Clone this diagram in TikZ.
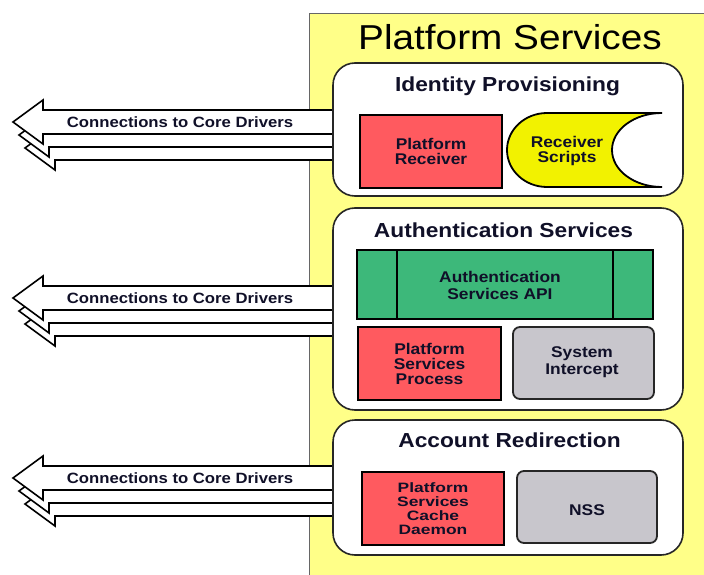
\documentclass[tikz,border=0pt]{standalone}
\usepackage{fontspec}
\setmainfont{Liberation Sans}
\newfontfamily\widef[FakeStretch=1.12,BoldFont={Liberation Sans Bold}]{Liberation Sans}
\newfontfamily\widerf[FakeStretch=1.28,BoldFont={Liberation Sans Bold}]{Liberation Sans}
\definecolor{bgyellow}{HTML}{FFFF88}
\definecolor{boxred}{HTML}{FF5A5F}
\definecolor{boxgreen}{HTML}{3DB87A}
\definecolor{boxgray}{HTML}{C8C6CC}
\definecolor{scriptyellow}{HTML}{F2F200}
\definecolor{txt}{HTML}{101028}
\newcommand\onearrow[2]{%
  \draw[blockarrow] (336,{#2-12}) -- ({#1+30},{#2-12}) -- ({#1+30},{#2-22}) -- (#1,#2)
    -- ({#1+30},{#2+22}) -- ({#1+30},{#2+12}) -- (336,{#2+12});}
\newcommand\arrowgroup[2]{%
  \onearrow{25}{#1+26}
  \onearrow{19}{#1+13}
  \onearrow{13}{#1}
  \node[conn] (#2) at (180,#1) {Connections to Core Drivers};}
\begin{document}
\begin{tikzpicture}[x=1pt,y=-1pt,
  panel/.style={draw=black!85, line width=1.6pt, fill=white, rounded corners=22pt, inner sep=0pt},
  redbox/.style={draw=black, line width=1.8pt, fill=boxred, inner sep=0pt},
  greenbox/.style={draw=black, line width=1.8pt, fill=boxgreen, inner sep=0pt},
  graybox/.style={draw=black!85, line width=1.8pt, fill=boxgray, rounded corners=7pt, inner sep=0pt},
  lbl/.style={text=txt, font=\widef\bfseries\fontsize{15.5}{15}\selectfont, align=center, inner sep=0pt},
  head/.style={text=txt, font=\widef\bfseries\fontsize{20.3}{24}\selectfont, inner sep=0pt, anchor=base},
  conn/.style={text=txt, font=\widef\bfseries\fontsize{14.9}{18}\selectfont, inner sep=0pt},
  blockarrow/.style={draw=black, line width=1.6pt, fill=white, line join=miter},
  scriptst/.style={draw=black, line width=1.8pt, fill=scriptyellow},
]
\useasboundingbox (0,0) rectangle (704,575);
% yellow platform area
\fill[bgyellow] (309,14) rectangle (704,575);
\draw[black!60, line width=1pt] (309,575) -- (309,14) -- (704,14);
\node[anchor=base, inner sep=0pt, font=\widef\fontsize{34.6}{40}\selectfont] (title) at (510,50) {Platform Services};

% arrows
\arrowgroup{122}{connA}
\arrowgroup{298}{connB}
\arrowgroup{478}{connC}

% panels
\node[panel, minimum width=350pt, minimum height=133pt] (idp) at (508,129.5) {};
\node[panel, minimum width=350pt, minimum height=202pt] (auth) at (508,309) {};
\node[panel, minimum width=350pt, minimum height=135pt] (acct) at (508,487.5) {};
\node[head] (idpt) at (507.5,92) {Identity Provisioning};
\node[head] (autht) at (503.5,237) {Authentication Services};
\node[head] (acctt) at (509.5,447) {Account Redirection};

% identity provisioning
\node[redbox, minimum width=142pt, minimum height=73pt] (pr) at (431,151.5) {};
\node[lbl] (prt) at (pr.center) {Platform\\Receiver};
\draw[scriptst] (547,113) -- (662,113) arc[start angle=270, end angle=90, x radius=50, y radius=37]
  -- (547,187) arc[start angle=90, end angle=270, x radius=40, y radius=37] -- cycle;
\node[lbl] (rs) at (567,151) {Receiver\\Scripts};

% authentication services
\node[greenbox, minimum width=296pt, minimum height=69pt] (api) at (505,284.5) {};
\draw[black, line width=1.8pt] ([xshift=41pt]api.north west) -- ([xshift=41pt]api.south west);
\draw[black, line width=1.8pt] ([xshift=-41pt]api.north east) -- ([xshift=-41pt]api.south east);
\node[lbl, font=\widef\bfseries\fontsize{15.5}{17}\selectfont] (apit) at (500,285) {Authentication\\Services API};
\node[redbox, minimum width=143pt, minimum height=73pt] (psp) at (429.5,363.5) {};
\node[lbl] (pspt) at (psp.center) {Platform\\Services\\Process};
\node[graybox, minimum width=141pt, minimum height=72pt] (si) at (583.5,363) {};
\node[lbl, font=\widef\bfseries\fontsize{15.5}{17.5}\selectfont] (sit) at (582,362) {System\\Intercept};

% account redirection
\node[redbox, minimum width=142pt, minimum height=73pt] (pscd) at (433,508.5) {};
\node[lbl, font=\widerf\bfseries\fontsize{13.6}{14.2}\selectfont] (pscdt) at (pscd.center) {Platform\\Services\\Cache\\Daemon};
\node[graybox, minimum width=140pt, minimum height=72pt] (nss) at (587,507) {};
\node[lbl] (nsst) at (587,510) {NSS};
\end{tikzpicture}
\end{document}
